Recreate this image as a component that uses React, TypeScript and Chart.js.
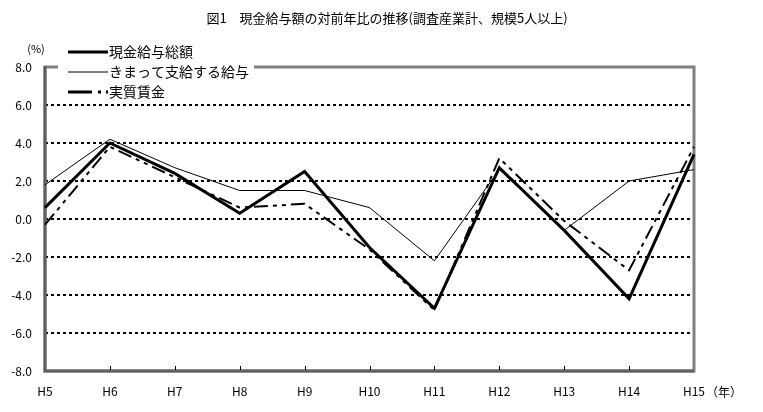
import React, { useEffect, useRef } from "react";
import { Chart, registerables } from "chart.js";

Chart.register(...registerables);

const categories = ["H5", "H6", "H7", "H8", "H9", "H10", "H11", "H12", "H13", "H14", "H15"];
const totalWages = [0.6, 4.0, 2.4, 0.3, 2.5, -1.5, -4.7, 2.7, -0.6, -4.2, 3.4];
const regularWages = [1.8, 4.2, 2.7, 1.5, 1.5, 0.6, -2.2, 2.6, -0.6, 2.0, 2.6];
const realWages = [-0.3, 3.8, 2.2, 0.6, 0.8, -1.6, -4.8, 3.2, -0.1, -2.7, 3.8];
const seriesNames = ["現金給与総額", "きまって支給する給与", "実質賃金"];
const titleText = "図1　現金給与額の対前年比の推移(調査産業計、規模5人以上)";
const yUnit = "(%)";
const xUnit = "（年）";

const FONT = '"Noto Sans CJK JP", sans-serif';
const DASHDOT = [14, 5, 4, 5, 4, 5];
const LEGEND_DASHDOT = [24, 6, 3, 5, 3, 10];

const decorPlugin = {
  id: "decor",
  beforeDatasetsDraw(chart: any) {
    const { ctx, chartArea: a } = chart;
    ctx.save();
    ctx.strokeStyle = "#808080";
    ctx.lineWidth = 3;
    ctx.strokeRect(a.left, a.top, a.right - a.left, a.bottom - a.top);
    ctx.strokeStyle = "#606060";
    ctx.beginPath();
    ctx.moveTo(a.left, a.top - 1);
    ctx.lineTo(a.left, a.bottom);
    ctx.lineTo(a.right, a.bottom);
    ctx.stroke();
    const xs = chart.scales.x;
    ctx.strokeStyle = "#000";
    ctx.lineWidth = 1;
    for (let i = 1; i < categories.length - 1; i++) {
      const x = Math.round(xs.getPixelForValue(i)) + 0.5;
      ctx.beginPath();
      ctx.moveTo(x, a.bottom - 1);
      ctx.lineTo(x, a.bottom - 5);
      ctx.stroke();
    }
    ctx.restore();
  },
  afterDraw(chart: any) {
    const { ctx } = chart;
    ctx.save();
    ctx.fillStyle = "#000";
    ctx.textBaseline = "middle";
    ctx.font = `13px ${FONT}`;
    ctx.textAlign = "center";
    ctx.fillText(titleText, 387, 18);
    ctx.font = `11px ${FONT}`;
    ctx.fillText(yUnit, 36, 49);
    ctx.font = `12px ${FONT}`;
    ctx.textAlign = "left";
    ctx.fillText(xUnit, 706, 392);
    const styles = [
      { w: 3, dash: [] as number[] },
      { w: 1, dash: [] as number[] },
      { w: 3, dash: LEGEND_DASHDOT },
    ];
    const ys = [52, 72, 92];
    ctx.fillStyle = "#fff";
    ctx.fillRect(58, 40, 196, 60);
    for (let i = 0; i < 3; i++) {
      ctx.strokeStyle = "#000";
      ctx.lineWidth = styles[i].w;
      ctx.setLineDash(styles[i].dash);
      ctx.beginPath();
      ctx.moveTo(68, ys[i]);
      ctx.lineTo(108, ys[i]);
      ctx.stroke();
      ctx.setLineDash([]);
      ctx.fillStyle = "#000";
      ctx.font = `14px ${FONT}`;
      ctx.fillText(seriesNames[i], 109, ys[i]);
    }
    ctx.restore();
  },
};

export default function App() {
  const ref = useRef<HTMLCanvasElement>(null);
  useEffect(() => {
    document.body.style.margin = "0";
    const chart = new Chart(ref.current!, {
      type: "line",
      data: {
        labels: categories,
        datasets: [
          { label: seriesNames[0], data: totalWages, borderColor: "#000", borderWidth: 3, pointRadius: 0, tension: 0 },
          { label: seriesNames[1], data: regularWages, borderColor: "#000", borderWidth: 1, pointRadius: 0, tension: 0 },
          { label: seriesNames[2], data: realWages, borderColor: "#000", borderWidth: 2, borderDash: DASHDOT, pointRadius: 0, tension: 0 },
        ],
      },
      options: {
        animation: false,
        responsive: false,
        maintainAspectRatio: false,
        layout: { padding: { left: 0, right: 69, top: 67, bottom: 0 } },
        plugins: { legend: { display: false }, title: { display: false }, tooltip: { enabled: false } },
        scales: {
          x: {
            offset: false,
            grid: { display: false, drawTicks: false },
            border: { display: false },
            ticks: { color: "#000", font: { family: FONT, size: 12 }, padding: 13, maxRotation: 0, autoSkip: false },
            afterFit: (s: any) => { s.height = 41; },
          },
          y: {
            min: -8,
            max: 8,
            grid: {
              drawTicks: false,
              color: (c: any) => (c.tick && Math.abs(c.tick.value) < 7.9 ? "#000" : "rgba(0,0,0,0)"),
              lineWidth: 2,
            },
            border: { display: false, dash: [3, 3] },
            ticks: {
              stepSize: 2,
              color: "#000",
              font: { family: FONT, size: 12 },
              padding: 13,
              callback: (v: any) => Number(v).toFixed(1),
            },
            afterFit: (s: any) => { s.width = 45; },
          },
        },
      },
      plugins: [decorPlugin],
    });
    return () => chart.destroy();
  }, []);
  return <canvas ref={ref} width={763} height={412} style={{ display: "block" }} />;
}
